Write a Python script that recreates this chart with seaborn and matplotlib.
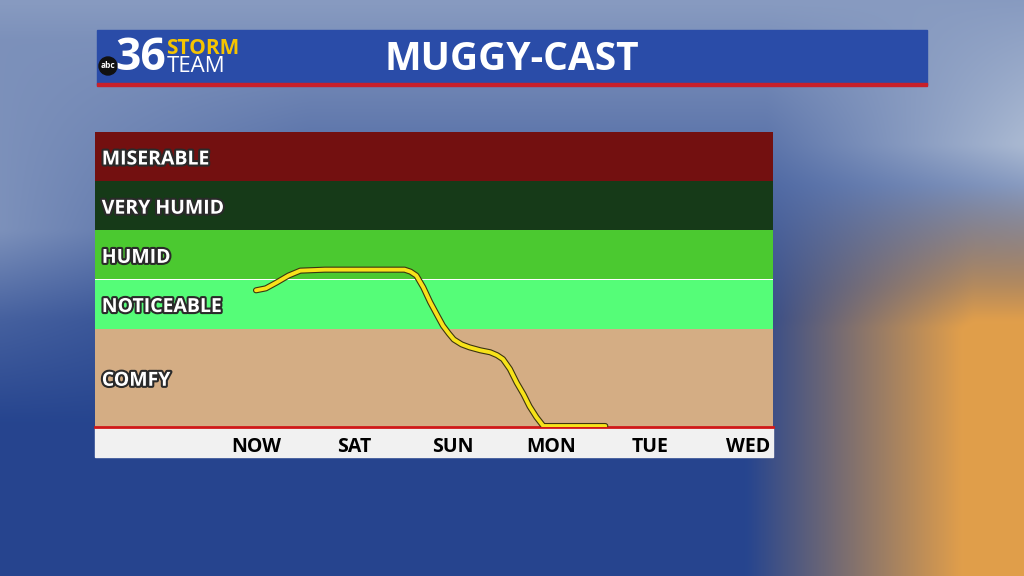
import numpy as np
import pandas as pd
import matplotlib
matplotlib.use('Agg')
import matplotlib.pyplot as plt
import matplotlib.patheffects as pe
from matplotlib.patches import Rectangle, Circle
import seaborn as sns

# --- Data ---
days = ["NOW", "SAT", "SUN", "MON", "TUE", "WED"]
day_pos = [0, 1, 2, 3, 4, 5]

band_names = ["COMFY", "NOTICEABLE", "HUMID", "VERY HUMID", "MISERABLE"]
band_low = [50, 60, 65, 70, 75]
band_high = [60, 65, 70, 75, 80]
band_colors = ["#d4ad84", "#55fd78", "#4bc930", "#163a18", "#731010"]

# dew point trend (x in days from now)
curve_x = [0.00, 0.10, 0.21, 0.33, 0.45, 0.70, 1.00, 1.30, 1.51, 1.57, 1.63, 1.70,
           1.77, 1.84, 1.90, 1.96, 2.01, 2.09, 2.17, 2.28, 2.38, 2.45, 2.51, 2.58,
           2.65, 2.72, 2.78, 2.85, 2.92, 3.10, 3.30, 3.55]
curve_y = [63.9, 64.1, 64.7, 65.4, 65.9, 66.0, 66.0, 66.0, 66.0, 65.8, 65.4, 64.2,
           62.7, 61.4, 60.3, 59.5, 58.9, 58.4, 58.1, 57.8, 57.6, 57.3, 56.9, 55.9,
           54.5, 53.3, 52.1, 51.0, 50.1, 50.1, 50.1, 50.1]

# --- Styling ---
sns.set_theme(style="white")
plt.rcParams['font.family'] = ['Open Sans', 'DejaVu Sans']

W, H = 1024, 576
fig = plt.figure(figsize=(10.24, 5.76), dpi=100)

# --- Background (sky-ish gradient) ---
bg = fig.add_axes([0, 0, 1, 1])
gx, gy = np.meshgrid(np.linspace(0, 1, 256), np.linspace(0, 1, 144))
blue = np.array([0.15, 0.27, 0.56])
light = np.array([0.66, 0.72, 0.82])
orange = np.array([0.92, 0.64, 0.28])
w_light = np.clip(1 - gy * 1.8, 0, 1) * 0.75
w_light += np.clip(0.3 - np.abs(gx - 0.0), 0, 1) * 1.5 * np.clip(1 - np.abs(gy - 0.4) * 3, 0, 1)
w_light += np.clip((gx - 0.75) * 3, 0, 1) * np.clip(1 - np.abs(gy - 0.25) * 4, 0, 1) * 0.8
w_light = np.clip(w_light, 0, 1)
w_orange = np.clip((gx - 0.73) * 4.5, 0, 1) * np.clip((gy - 0.32) * 4.0, 0, 1)
w_orange = np.clip(w_orange, 0, 0.95)
img = blue[None, None, :] * (1 - w_light[..., None]) + light[None, None, :] * w_light[..., None]
img = img * (1 - w_orange[..., None]) + orange[None, None, :] * w_orange[..., None]
bg.imshow(img, extent=[0, W, H, 0], aspect='auto', interpolation='bicubic')
bg.set_xlim(0, W)
bg.set_ylim(H, 0)
bg.axis('off')

# --- Header bar ---
bg.add_patch(Rectangle((97, 30), 830, 55, color="#2a4ca8", zorder=2))
bg.add_patch(Rectangle((97, 83), 830, 3, color="#c8202a", zorder=3))
bg.text(512, 59, "MUGGY-CAST", color="white", fontsize=28, fontweight="bold",
        ha="center", va="center", zorder=4)
bg.add_patch(Circle((108, 66), 9, color="#111111", zorder=4))
bg.text(108, 66, "abc", color="white", fontsize=6, fontweight="bold",
        ha="center", va="center", zorder=5)
bg.text(141, 58, "36", color="white", fontsize=32, fontweight="bold",
        ha="center", va="center", zorder=4)
bg.text(166, 48, "STORM", color="#f5c400", fontsize=15, fontweight="bold",
        ha="left", va="center", zorder=4)
bg.text(167, 67, "TEAM", color="white", fontsize=16,
        ha="left", va="center", zorder=4)

# --- Axis label strip ---
bg.add_patch(Rectangle((95, 427), 678, 30, color="#f1f1f1", zorder=2))

# --- Chart ---
x0, x1 = 95, 773
y_top, y_bot = 132, 427
ax = fig.add_axes([x0 / W, 1 - y_bot / H, (x1 - x0) / W, (y_bot - y_top) / H])
ax.set_xlim((x0 - 256) / 98.4, (x1 - 256) / 98.4)
ax.set_ylim(50, 80)

for name, lo, hi, col in zip(band_names, band_low, band_high, band_colors):
    ax.axhspan(lo, hi, color=col, lw=0, zorder=0)
    ax.text(0.01, (lo + hi) / 2 - 0.3, name, transform=ax.get_yaxis_transform(),
            color="white", fontsize=14, fontweight="bold", ha="left", va="center",
            path_effects=[pe.withStroke(linewidth=3, foreground="#2a2a2a")])

df = pd.DataFrame({"day": curve_x, "dewpoint": curve_y})
sns.lineplot(data=df, x="day", y="dewpoint", ax=ax, color="#f7e21a", lw=2.8,
             zorder=3, path_effects=[pe.Stroke(linewidth=4.4, foreground="#3b3410"), pe.Normal()])

ax.set_xticks(day_pos)
ax.set_xticklabels(days, fontsize=14, fontweight="bold", color="black")
ax.tick_params(axis="x", length=0, pad=7)
ax.set_yticks([])
ax.set_xlabel("")
ax.set_ylabel("")
for s in ["top", "left", "right"]:
    ax.spines[s].set_visible(False)
ax.spines["bottom"].set_color("#d01818")
ax.spines["bottom"].set_linewidth(2)

fig.savefig("out.png", dpi=100)
